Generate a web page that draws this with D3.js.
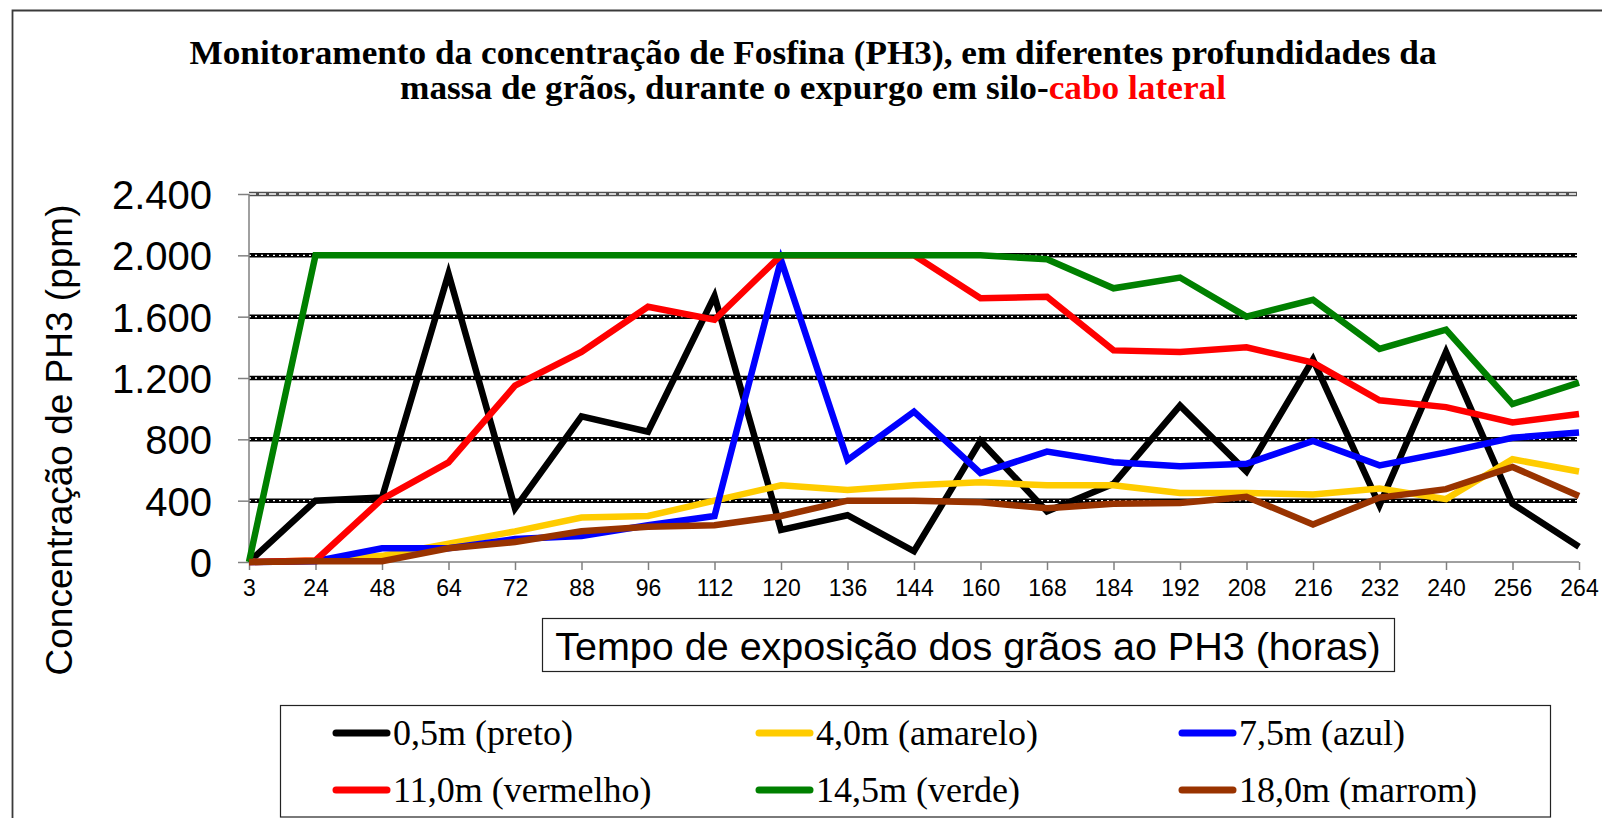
<!DOCTYPE html>
<html>
<head>
<meta charset="utf-8">
<script src="https://cdn.jsdelivr.net/npm/d3@7"></script>
<style>
  body { margin: 0; background: #fff; }
  svg { display: block; }
</style>
</head>
<body>
<div id="chart"></div>
<script>
// Data
var hours = ["3", "24", "48", "64", "72", "88", "96", "112", "120", "136", "144",
  "160", "168", "184", "192", "208", "216", "232", "240", "256", "264"];
var yTicks = [0, 400, 800, 1200, 1600, 2000, 2400];

var preto    = [0, 400, 420, 1880, 350, 950, 850, 1735, 210, 305, 70, 790, 330, 510, 1020, 590, 1320, 370, 1370, 380, 100];
var amarelo  = [0, 10, 40, 120, 200, 290, 300, 400, 500, 470, 500, 520, 500, 500, 450, 450, 440, 480, 410, 670, 590];
var azul     = [0, 5, 90, 90, 150, 170, 240, 300, 1970, 665, 980, 580, 720, 650, 625, 640, 790, 630, 715, 810, 845];
var vermelho = [0, 10, 410, 650, 1150, 1370, 1665, 1580, 2000, 2000, 2000, 1720, 1730, 1380, 1370, 1400, 1300, 1055, 1010, 910, 965];
var verde    = [0, 2000, 2000, 2000, 2000, 2000, 2000, 2000, 2000, 2000, 2000, 2000, 1975, 1785, 1855, 1600, 1710, 1390, 1515, 1030, 1170];
var marrom   = [0, 5, 5, 90, 130, 200, 230, 240, 300, 400, 400, 390, 350, 380, 385, 425, 245, 420, 475, 620, 430];

var seriesNames = ["0,5m (preto)", "4,0m (amarelo)", "7,5m (azul)",
  "11,0m (vermelho)", "14,5m (verde)", "18,0m (marrom)"];
var seriesValues = [preto, amarelo, azul, vermelho, verde, marrom];
var seriesColors = ["#000000", "#FFCC00", "#0000FF", "#FF0000", "#008000", "#993300"];

var svgWidth = 1602;
var svgHeight = 818;

var margin = { top: 194, right: 23, bottom: 256, left: 249 };
var width = svgWidth - margin.left - margin.right;
var height = svgHeight - margin.top - margin.bottom;

var svg = d3.select("#chart")
  .append("svg")
  .attr("width", svgWidth)
  .attr("height", svgHeight);

// outer chart border (cut off at the right and bottom)
svg.append("path")
  .attr("d", "M12.5,818 L12.5,10.5 L1602,10.5")
  .attr("fill", "none")
  .attr("stroke", "#3a3a3a")
  .attr("stroke-width", 1.8);

// Title (the original font is drawn a little wider, so stretch to the measured widths)
var titleFont = "'Liberation Serif', 'Times New Roman', serif";

svg.append("text")
  .attr("x", 813)
  .attr("y", 64)
  .attr("text-anchor", "middle")
  .attr("font-family", titleFont)
  .attr("font-weight", "bold")
  .attr("font-size", "33px")
  .attr("textLength", 1247)
  .attr("lengthAdjust", "spacingAndGlyphs")
  .text("Monitoramento da concentração de Fosfina (PH3), em diferentes profundidades da");

var line2 = svg.append("text")
  .attr("x", 813)
  .attr("y", 99)
  .attr("text-anchor", "middle")
  .attr("font-family", titleFont)
  .attr("font-weight", "bold")
  .attr("font-size", "33px")
  .attr("textLength", 826)
  .attr("lengthAdjust", "spacingAndGlyphs");
line2.append("tspan").text("massa de grãos, durante o expurgo em silo-");
line2.append("tspan").attr("fill", "#FF0000").text("cabo lateral");

var chartGroup = svg.append("g")
  .attr("transform", `translate(${margin.left}, ${margin.top})`);

// Scales
var xScale = d3.scalePoint()
  .domain(hours)
  .range([0, width]);

var yScale = d3.scaleLinear()
  .domain([0, 2400])
  .range([height, 0]);

// Gridlines
var grid = chartGroup.append("g");
yTicks.filter(d => d > 0).forEach(function(t) {
  var top = t === 2400;
  grid.append("line")
    .attr("x1", 0).attr("x2", width - 2)
    .attr("y1", yScale(t)).attr("y2", yScale(t))
    .attr("stroke", top ? "#505050" : "#000")
    .attr("stroke-width", 4.5);
  grid.append("line")
    .attr("x1", 0).attr("x2", width - 2)
    .attr("y1", yScale(t)).attr("y2", yScale(t))
    .attr("stroke", "#fff")
    .attr("stroke-width", 1.4)
    .attr("stroke-dasharray", top ? "7,3" : "2,4");
});

// Axes
var leftAxis = d3.axisLeft(yScale)
  .tickValues(yTicks)
  .tickSize(11)
  .tickFormat(d => d3.format(",")(d).replace(",", "."));

var bottomAxis = d3.axisBottom(xScale)
  .tickSize(8)
  .tickPadding(10);

var yAxisG = chartGroup.append("g").call(leftAxis);
yAxisG.selectAll("path, line").attr("stroke", "#808080").attr("stroke-width", 1.5);
yAxisG.select(".domain").attr("d", `M0,0V${height}`);
yAxisG.selectAll("text")
  .attr("x", -37)
  .attr("dy", "0.36em")
  .attr("font-family", "'Liberation Sans', Arial, sans-serif")
  .attr("font-size", "40px")
  .attr("fill", "#000");

var xAxisG = chartGroup.append("g")
  .attr("transform", `translate(0, ${height})`)
  .call(bottomAxis);
xAxisG.selectAll("path, line").attr("stroke", "#808080").attr("stroke-width", 1.5);
xAxisG.select(".domain").attr("d", `M0,0H${width}`);
xAxisG.selectAll("text")
  .attr("font-family", "'Liberation Sans', Arial, sans-serif")
  .attr("font-size", "23px")
  .attr("fill", "#000");

// Lines
var line = d3.line()
  .x((d, i) => xScale(hours[i]))
  .y(d => yScale(d));

chartGroup.selectAll(".series")
  .data(seriesValues)
  .enter()
  .append("path")
  .attr("class", "series")
  .attr("d", d => line(d))
  .attr("fill", "none")
  .attr("stroke", (d, i) => seriesColors[i])
  .attr("stroke-width", 6.5)
  .attr("stroke-linejoin", "miter")
  .attr("stroke-linecap", "butt");

// Axis labels
svg.append("text")
  .attr("transform", "rotate(-90)")
  .attr("x", -440)
  .attr("y", 72)
  .attr("text-anchor", "middle")
  .attr("font-family", "'Liberation Sans', Arial, sans-serif")
  .attr("font-size", "37px")
  .text("Concentração de PH3 (ppm)");

svg.append("rect")
  .attr("x", 542.5).attr("y", 618.5)
  .attr("width", 852).attr("height", 53)
  .attr("fill", "#fff")
  .attr("stroke", "#222")
  .attr("stroke-width", 1.2);

svg.append("text")
  .attr("x", 968)
  .attr("y", 660)
  .attr("text-anchor", "middle")
  .attr("font-family", "'Liberation Sans', Arial, sans-serif")
  .attr("font-size", "39.5px")
  .text("Tempo de exposição dos grãos ao PH3 (horas)");

// Legend
svg.append("rect")
  .attr("x", 280.5).attr("y", 705.5)
  .attr("width", 1270).attr("height", 111.5)
  .attr("fill", "#fff")
  .attr("stroke", "#222")
  .attr("stroke-width", 1.2);

var legendCols = [333, 756, 1179];
var legendRows = [733, 790];

var legend = svg.selectAll(".legend")
  .data(seriesNames)
  .enter()
  .append("g")
  .attr("class", "legend")
  .attr("transform", (d, i) => `translate(${legendCols[i % 3]}, ${legendRows[Math.floor(i / 3)]})`);

legend.append("line")
  .attr("x1", 3).attr("x2", 54)
  .attr("y1", 0).attr("y2", 0)
  .attr("stroke", (d, i) => seriesColors[i])
  .attr("stroke-width", 7)
  .attr("stroke-linecap", "round");

legend.append("text")
  .attr("x", 60)
  .attr("y", 12)
  .attr("font-family", "'Liberation Serif', 'Times New Roman', serif")
  .attr("font-size", "36px")
  .text(d => d);
</script>
</body>
</html>
